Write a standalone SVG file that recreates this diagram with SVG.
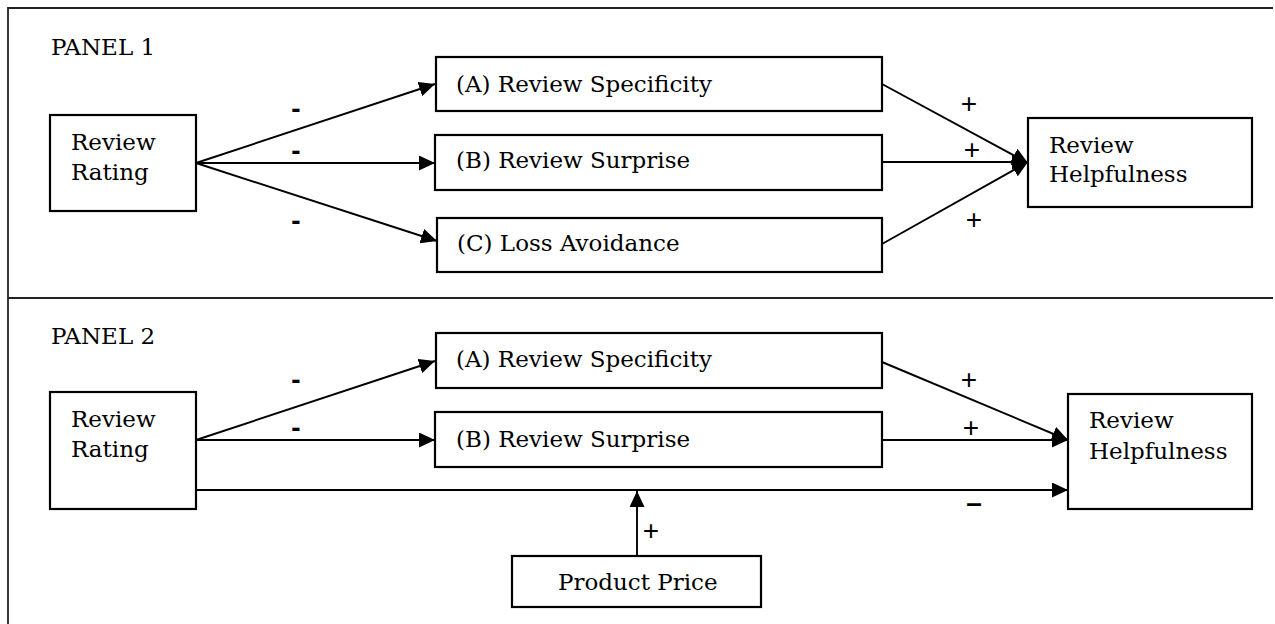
<svg xmlns="http://www.w3.org/2000/svg" width="1275" height="624" viewBox="0 0 1275 624">
<defs>
<marker id="ah" markerUnits="userSpaceOnUse" markerWidth="16" markerHeight="15" refX="16" refY="7.5" orient="auto">
<path d="M0,0 L16,7.5 L0,15 z" fill="#000"/>
</marker>
<style>
.box{fill:#fff;stroke:#000;stroke-width:2.2}
.t{font-family:"DejaVu Serif","Liberation Serif",serif;font-size:23px;fill:#000}
.arr{stroke:#000;stroke-width:1.9;fill:none;marker-end:url(#ah)}
.sg{font-family:"Liberation Sans",Arial,sans-serif;font-size:28px;fill:#000;text-anchor:middle}
.frame{stroke:#222;stroke-width:1.8;fill:none}
</style>
</defs>
<rect width="1275" height="624" fill="#fff"/>
<g id="frame">
<path class="frame" d="M8,624 L8,8 L1273,8"/>
<path class="frame" d="M8,298 L1273,298"/>
<text class="t" x="51" y="55">PANEL 1</text>
<text class="t" x="51" y="344">PANEL 2</text>
</g>
<g id="connectors">
<line class="arr" x1="196" y1="163" x2="435" y2="84"/>
<line class="arr" x1="196" y1="163" x2="435" y2="163"/>
<line class="arr" x1="196" y1="163" x2="437" y2="241"/>
<line class="arr" x1="882" y1="84" x2="1028" y2="163"/>
<line class="arr" x1="882" y1="162" x2="1028" y2="162"/>
<line class="arr" x1="882" y1="244" x2="1028" y2="162"/>
<line class="arr" x1="196" y1="440" x2="435" y2="361"/>
<line class="arr" x1="196" y1="440" x2="435" y2="440"/>
<line class="arr" x1="196" y1="490" x2="1068" y2="490"/>
<line class="arr" x1="882" y1="362" x2="1068" y2="440"/>
<line class="arr" x1="882" y1="440" x2="1068" y2="440"/>
<line class="arr" x1="637" y1="556" x2="637" y2="491"/>
<text class="sg" x="296" y="118" font-weight="bold" font-size="26">-</text>
<text class="sg" x="296" y="160" font-weight="bold" font-size="26">-</text>
<text class="sg" x="296" y="230" font-weight="bold" font-size="26">-</text>
<text class="sg" x="969" y="113">+</text>
<text class="sg" x="972" y="159">+</text>
<text class="sg" x="974" y="229">+</text>
<text class="sg" x="296" y="389" font-weight="bold" font-size="26">-</text>
<text class="sg" x="296" y="437" font-weight="bold" font-size="26">-</text>
<text class="sg" x="969" y="389">+</text>
<text class="sg" x="971" y="437">+</text>
<text class="sg" x="974" y="512" font-weight="bold">–</text>
<text class="sg" x="651" y="540">+</text>
</g>
<g id="p1-rating">
<rect class="box" x="50" y="115" width="146" height="96"/>
<text class="t" x="71" y="150">Review</text>
<text class="t" x="71" y="180">Rating</text>
</g>
<g id="p1-a">
<rect class="box" x="436" y="57" width="446" height="54"/>
<text class="t" x="456" y="92">(A) Review Specificity</text>
</g>
<g id="p1-b">
<rect class="box" x="435" y="135" width="447" height="55"/>
<text class="t" x="456" y="168">(B) Review Surprise</text>
</g>
<g id="p1-c">
<rect class="box" x="437" y="218" width="445" height="54"/>
<text class="t" x="457" y="251">(C) Loss Avoidance</text>
</g>
<g id="p1-help">
<rect class="box" x="1028" y="118" width="224" height="89"/>
<text class="t" x="1049" y="153">Review</text>
<text class="t" x="1049" y="182">Helpfulness</text>
</g>
<g id="p2-rating">
<rect class="box" x="50" y="392" width="146" height="117"/>
<text class="t" x="71" y="427">Review</text>
<text class="t" x="71" y="457">Rating</text>
</g>
<g id="p2-a">
<rect class="box" x="436" y="333" width="446" height="55"/>
<text class="t" x="456" y="367">(A) Review Specificity</text>
</g>
<g id="p2-b">
<rect class="box" x="435" y="412" width="447" height="55"/>
<text class="t" x="456" y="447">(B) Review Surprise</text>
</g>
<g id="p2-help">
<rect class="box" x="1068" y="394" width="184" height="115"/>
<text class="t" x="1089" y="428">Review</text>
<text class="t" x="1089" y="459">Helpfulness</text>
</g>
<g id="p2-price">
<rect class="box" x="512" y="556" width="249" height="51"/>
<text class="t" x="558" y="590">Product Price</text>
</g>
</svg>
